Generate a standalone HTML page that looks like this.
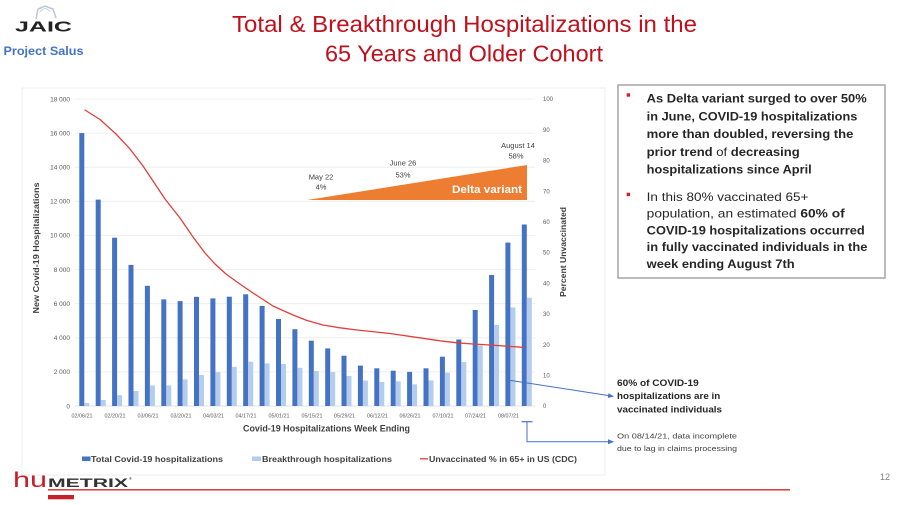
<!DOCTYPE html>
<html><head><meta charset="utf-8"><style>
html,body{margin:0;padding:0;background:#fff;}
svg{display:block;}
text{font-family:"Liberation Sans",sans-serif;}
</style></head><body>
<svg width="900" height="505" viewBox="0 0 900 505" xmlns="http://www.w3.org/2000/svg">
<defs>
<marker id="ah" markerWidth="6" markerHeight="6" refX="5" refY="3" orient="auto" markerUnits="userSpaceOnUse">
<path d="M0,0.5 L6,3 L0,5.5 z" fill="#4472c4"/>
</marker>
</defs>
<rect x="0" y="0" width="900" height="505" fill="#fff"/>

<!-- JAIC logo -->
<path d="M36,19 L38,9 L45,6 L53,9 L56,18" fill="none" stroke="#b9c6d3" stroke-width="1.5"/>
<path d="M40,12 Q45,5 50,12" fill="none" stroke="#c8d4e0" stroke-width="1"/>
<text x="15" y="31.7" font-size="15" font-weight="bold" fill="#222" textLength="57" lengthAdjust="spacingAndGlyphs">JAIC</text>
<text x="3.5" y="55" font-size="12" font-weight="bold" fill="#4472c4" textLength="80" lengthAdjust="spacingAndGlyphs">Project Salus</text>

<!-- Title -->
<text x="232" y="32" font-size="23" fill="#c0101c" textLength="465" lengthAdjust="spacingAndGlyphs">Total &amp; Breakthrough Hospitalizations in the</text>
<text x="325" y="61.7" font-size="23" fill="#c0101c" textLength="278" lengthAdjust="spacingAndGlyphs">65 Years and Older Cohort</text>

<!-- chart panel -->
<rect x="22" y="88" width="583" height="387" fill="#fff" stroke="#ececec" stroke-width="1"/>

<!-- gridlines -->
<g stroke="#ebebeb" stroke-width="0.8">
<line x1="75" y1="99" x2="535" y2="99"/>
<line x1="75" y1="133.1" x2="535" y2="133.1"/>
<line x1="75" y1="167.2" x2="535" y2="167.2"/>
<line x1="75" y1="201.3" x2="535" y2="201.3"/>
<line x1="75" y1="235.4" x2="535" y2="235.4"/>
<line x1="75" y1="269.6" x2="535" y2="269.6"/>
<line x1="75" y1="303.7" x2="535" y2="303.7"/>
<line x1="75" y1="337.8" x2="535" y2="337.8"/>
<line x1="75" y1="371.9" x2="535" y2="371.9"/>
<line x1="75" y1="406" x2="535" y2="406" stroke="#d9d9d9"/>
</g>

<!-- left tick labels -->
<g font-size="6.5" fill="#595959" text-anchor="end">
<text x="70" y="101.3">18 000</text>
<text x="70" y="135.4">16 000</text>
<text x="70" y="169.5">14 000</text>
<text x="70" y="203.6">12 000</text>
<text x="70" y="237.7">10 000</text>
<text x="70" y="271.9">8 000</text>
<text x="70" y="306">6 000</text>
<text x="70" y="340.1">4 000</text>
<text x="70" y="374.2">2 000</text>
<text x="70" y="408.3">0</text>
</g>
<!-- right tick labels -->
<g font-size="6" fill="#595959">
<text x="543" y="101.2">100</text>
<text x="543" y="131.9">90</text>
<text x="543" y="162.6">80</text>
<text x="543" y="193.3">70</text>
<text x="543" y="224">60</text>
<text x="543" y="254.7">50</text>
<text x="543" y="285.4">40</text>
<text x="543" y="316.1">30</text>
<text x="543" y="346.8">20</text>
<text x="543" y="377.5">10</text>
<text x="543" y="408.2">0</text>
</g>

<!-- axis titles -->
<text transform="translate(39,248) rotate(-90)" font-size="8.5" font-weight="bold" fill="#404040" text-anchor="middle" textLength="131" lengthAdjust="spacingAndGlyphs">New Covid-19 Hospitalizations</text>
<text transform="translate(566,252) rotate(-90)" font-size="8" font-weight="bold" fill="#404040" text-anchor="middle" textLength="90" lengthAdjust="spacingAndGlyphs">Percent Unvaccinated</text>
<text x="243" y="431.5" font-size="9" font-weight="bold" fill="#404040" textLength="167" lengthAdjust="spacingAndGlyphs">Covid-19 Hospitalizations Week Ending</text>

<!-- orange delta triangle -->
<polygon points="307,200 527,165 527,200" fill="#ed7d31"/>
<text x="452" y="193" font-size="11" font-weight="bold" fill="#fff" textLength="70" lengthAdjust="spacingAndGlyphs">Delta variant</text>
<g font-size="7.5" fill="#404040" text-anchor="middle">
<text x="321" y="179.5">May 22</text>
<text x="321" y="189.5">4%</text>
<text x="403" y="165.5">June 26</text>
<text x="403" y="177.5">53%</text>
<text x="518" y="148">August 14</text>
<text x="516" y="158.5">58%</text>
</g>

<!-- dark bars -->
<g fill="#4472c4">
<rect x="79.3" y="133.1" width="5" height="272.9"/>
<rect x="95.7" y="199.6" width="5" height="206.4"/>
<rect x="112.1" y="237.7" width="5" height="168.3"/>
<rect x="128.5" y="264.9" width="5" height="141.1"/>
<rect x="144.9" y="285.8" width="5" height="120.2"/>
<rect x="161.3" y="299.4" width="5" height="106.6"/>
<rect x="177.6" y="301.1" width="5" height="104.9"/>
<rect x="194.0" y="296.8" width="5" height="109.2"/>
<rect x="210.4" y="298.4" width="5" height="107.6"/>
<rect x="226.8" y="296.7" width="5" height="109.3"/>
<rect x="243.2" y="294.3" width="5" height="111.7"/>
<rect x="259.6" y="305.9" width="5" height="100.1"/>
<rect x="276.0" y="319.0" width="5" height="87.0"/>
<rect x="292.4" y="329.2" width="5" height="76.8"/>
<rect x="308.8" y="340.7" width="5" height="65.3"/>
<rect x="325.2" y="348.4" width="5" height="57.6"/>
<rect x="341.5" y="355.7" width="5" height="50.3"/>
<rect x="357.9" y="365.6" width="5" height="40.4"/>
<rect x="374.3" y="368.3" width="5" height="37.7"/>
<rect x="390.7" y="370.7" width="5" height="35.3"/>
<rect x="407.1" y="371.9" width="5" height="34.1"/>
<rect x="423.5" y="368.3" width="5" height="37.7"/>
<rect x="439.9" y="356.7" width="5" height="49.3"/>
<rect x="456.3" y="339.5" width="5" height="66.5"/>
<rect x="472.7" y="310.0" width="5" height="96.0"/>
<rect x="489.1" y="275.0" width="5" height="131.0"/>
<rect x="505.4" y="242.6" width="5" height="163.4"/>
<rect x="521.8" y="224.5" width="5" height="181.5"/>
</g>
<!-- light bars -->
<g fill="#b4cdec">
<rect x="84.3" y="403.1" width="5" height="2.9"/>
<rect x="100.7" y="400.0" width="5" height="6.0"/>
<rect x="117.1" y="395.1" width="5" height="10.9"/>
<rect x="133.5" y="391.0" width="5" height="15.0"/>
<rect x="149.9" y="385.4" width="5" height="20.6"/>
<rect x="166.3" y="385.4" width="5" height="20.6"/>
<rect x="182.6" y="379.4" width="5" height="26.6"/>
<rect x="199.0" y="375.0" width="5" height="31.0"/>
<rect x="215.4" y="372.1" width="5" height="33.9"/>
<rect x="231.8" y="366.8" width="5" height="39.2"/>
<rect x="248.2" y="361.7" width="5" height="44.3"/>
<rect x="264.6" y="363.4" width="5" height="42.6"/>
<rect x="281.0" y="364.0" width="5" height="42.0"/>
<rect x="297.4" y="367.8" width="5" height="38.2"/>
<rect x="313.8" y="371.0" width="5" height="35.0"/>
<rect x="330.2" y="372.1" width="5" height="33.9"/>
<rect x="346.5" y="376.0" width="5" height="30.0"/>
<rect x="362.9" y="380.6" width="5" height="25.4"/>
<rect x="379.3" y="382.0" width="5" height="24.0"/>
<rect x="395.7" y="381.3" width="5" height="24.7"/>
<rect x="412.1" y="384.3" width="5" height="21.7"/>
<rect x="428.5" y="380.4" width="5" height="25.6"/>
<rect x="444.9" y="372.7" width="5" height="33.3"/>
<rect x="461.3" y="362.0" width="5" height="44.0"/>
<rect x="477.7" y="345.3" width="5" height="60.7"/>
<rect x="494.1" y="325.0" width="5" height="81.0"/>
<rect x="510.4" y="307.4" width="5" height="98.6"/>
<rect x="526.8" y="297.7" width="5" height="108.3"/>
</g>

<!-- red unvaccinated line -->
<polyline fill="none" stroke="#e0403a" stroke-width="1.3" stroke-linejoin="round" stroke-linecap="round"
points="85,110 100,119.5 116,134 130,149 143,166 155,184 165,199 180,218 193,237 205,253 215,264 226,274 237,282 253,293 273,306 293,315 307,320.5 323,325 340,327.8 357,330 390,333.5 423,338.3 440,340.8 457,342.8 473,344 490,345 523,347.3"/>

<!-- x tick labels -->
<g font-size="5.5" fill="#595959" text-anchor="middle">
<text x="82" y="417.5" textLength="21" lengthAdjust="spacingAndGlyphs">02/06/21</text>
<text x="115" y="417.5" textLength="21" lengthAdjust="spacingAndGlyphs">02/20/21</text>
<text x="148" y="417.5" textLength="21" lengthAdjust="spacingAndGlyphs">03/06/21</text>
<text x="181" y="417.5" textLength="21" lengthAdjust="spacingAndGlyphs">03/20/21</text>
<text x="213.5" y="417.5" textLength="21" lengthAdjust="spacingAndGlyphs">04/03/21</text>
<text x="246" y="417.5" textLength="21" lengthAdjust="spacingAndGlyphs">04/17/21</text>
<text x="279" y="417.5" textLength="21" lengthAdjust="spacingAndGlyphs">05/01/21</text>
<text x="312" y="417.5" textLength="21" lengthAdjust="spacingAndGlyphs">05/15/21</text>
<text x="344.5" y="417.5" textLength="21" lengthAdjust="spacingAndGlyphs">05/29/21</text>
<text x="377.5" y="417.5" textLength="21" lengthAdjust="spacingAndGlyphs">06/12/21</text>
<text x="410" y="417.5" textLength="21" lengthAdjust="spacingAndGlyphs">06/26/21</text>
<text x="443" y="417.5" textLength="21" lengthAdjust="spacingAndGlyphs">07/10/21</text>
<text x="475.5" y="417.5" textLength="21" lengthAdjust="spacingAndGlyphs">07/24/21</text>
<text x="508.5" y="417.5" textLength="21" lengthAdjust="spacingAndGlyphs">08/07/21</text>
</g>

<!-- legend -->
<rect x="82" y="456.5" width="8.5" height="4.5" fill="#4472c4"/>
<text x="91" y="461.8" font-size="8" font-weight="bold" fill="#404040" textLength="132" lengthAdjust="spacingAndGlyphs">Total Covid-19 hospitalizations</text>
<rect x="252" y="456.5" width="9" height="4.5" fill="#b4cdec"/>
<text x="262" y="461.8" font-size="8" font-weight="bold" fill="#404040" textLength="130" lengthAdjust="spacingAndGlyphs">Breakthrough hospitalizations</text>
<line x1="420" y1="458.8" x2="428" y2="458.8" stroke="#e0403a" stroke-width="1.3"/>
<text x="429" y="461.8" font-size="8" font-weight="bold" fill="#404040" textLength="148" lengthAdjust="spacingAndGlyphs">Unvaccinated % in 65+ in US (CDC)</text>

<!-- callout arrows -->
<line x1="508" y1="380" x2="613" y2="396.3" stroke="#4472c4" stroke-width="1" marker-end="url(#ah)"/>
<line x1="521.5" y1="421.7" x2="532.5" y2="421.7" stroke="#4472c4" stroke-width="1.2"/>
<polyline points="527,421.7 527,441.7 613,441.7" fill="none" stroke="#4472c4" stroke-width="1" marker-end="url(#ah)"/>

<!-- callout texts -->
<g font-size="9.5" font-weight="bold" fill="#262626">
<text x="617" y="386" textLength="81.7" lengthAdjust="spacingAndGlyphs">60% of COVID-19</text>
<text x="617" y="399.2" textLength="103.3" lengthAdjust="spacingAndGlyphs">hospitalizations are in</text>
<text x="617" y="412.6" textLength="105" lengthAdjust="spacingAndGlyphs">vaccinated individuals</text>
</g>
<g font-size="7" fill="#404040">
<text x="617" y="438.6" textLength="120" lengthAdjust="spacingAndGlyphs">On 08/14/21, data incomplete</text>
<text x="617" y="451" textLength="120" lengthAdjust="spacingAndGlyphs">due to lag in claims processing</text>
</g>

<!-- right text box -->
<rect x="618" y="85" width="267" height="193" fill="#fff" stroke="#a6a6a6" stroke-width="1.5"/>
<rect x="626.7" y="93.3" width="3.4" height="3.4" fill="#d0202a"/>
<rect x="626.7" y="192.7" width="3.4" height="3.4" fill="#d0202a"/>
<g font-size="12" fill="#262626">
<text x="646.7" y="102.7" font-weight="bold" textLength="220" lengthAdjust="spacingAndGlyphs">As Delta variant surged to over 50%</text>
<text x="646.7" y="120.4" font-weight="bold" textLength="210.7" lengthAdjust="spacingAndGlyphs">in June, COVID-19 hospitalizations</text>
<text x="646.7" y="138.2" font-weight="bold" textLength="206.7" lengthAdjust="spacingAndGlyphs">more than doubled, reversing the</text>
<text x="646.7" y="156" textLength="153" lengthAdjust="spacingAndGlyphs"><tspan font-weight="bold">prior trend </tspan><tspan>of</tspan><tspan font-weight="bold"> decreasing</tspan></text>
<text x="646.7" y="173.6" font-weight="bold" textLength="165" lengthAdjust="spacingAndGlyphs">hospitalizations since April</text>
<text x="646.7" y="201" textLength="161.7" lengthAdjust="spacingAndGlyphs">In this 80% vaccinated 65+</text>
<text x="646.7" y="217.7" textLength="198" lengthAdjust="spacingAndGlyphs">population, an estimated <tspan font-weight="bold">60% of</tspan></text>
<text x="646.7" y="234.4" font-weight="bold" textLength="218" lengthAdjust="spacingAndGlyphs">COVID-19 hospitalizations occurred</text>
<text x="646.7" y="251" font-weight="bold" textLength="220.7" lengthAdjust="spacingAndGlyphs">in fully vaccinated individuals in the</text>
<text x="646.7" y="268" font-weight="bold" textLength="148" lengthAdjust="spacingAndGlyphs">week ending August 7th</text>
</g>

<!-- humetrix footer -->
<text x="13" y="487" font-family="Liberation Serif,serif" font-size="21" fill="#c8202a" textLength="34" lengthAdjust="spacingAndGlyphs">hu</text>
<text x="48" y="487" font-size="11.5" font-weight="bold" fill="#333" textLength="80" lengthAdjust="spacingAndGlyphs">METRIX</text>
<text x="129" y="480" font-size="4" fill="#333">®</text>
<line x1="48" y1="489.8" x2="790" y2="489.8" stroke="#d02a2a" stroke-width="1.4"/>
<rect x="48" y="495" width="26" height="4.3" fill="#c8202a"/>
<text x="880" y="480" font-size="9" fill="#7f7f7f">12</text>
</svg>
</body></html>
